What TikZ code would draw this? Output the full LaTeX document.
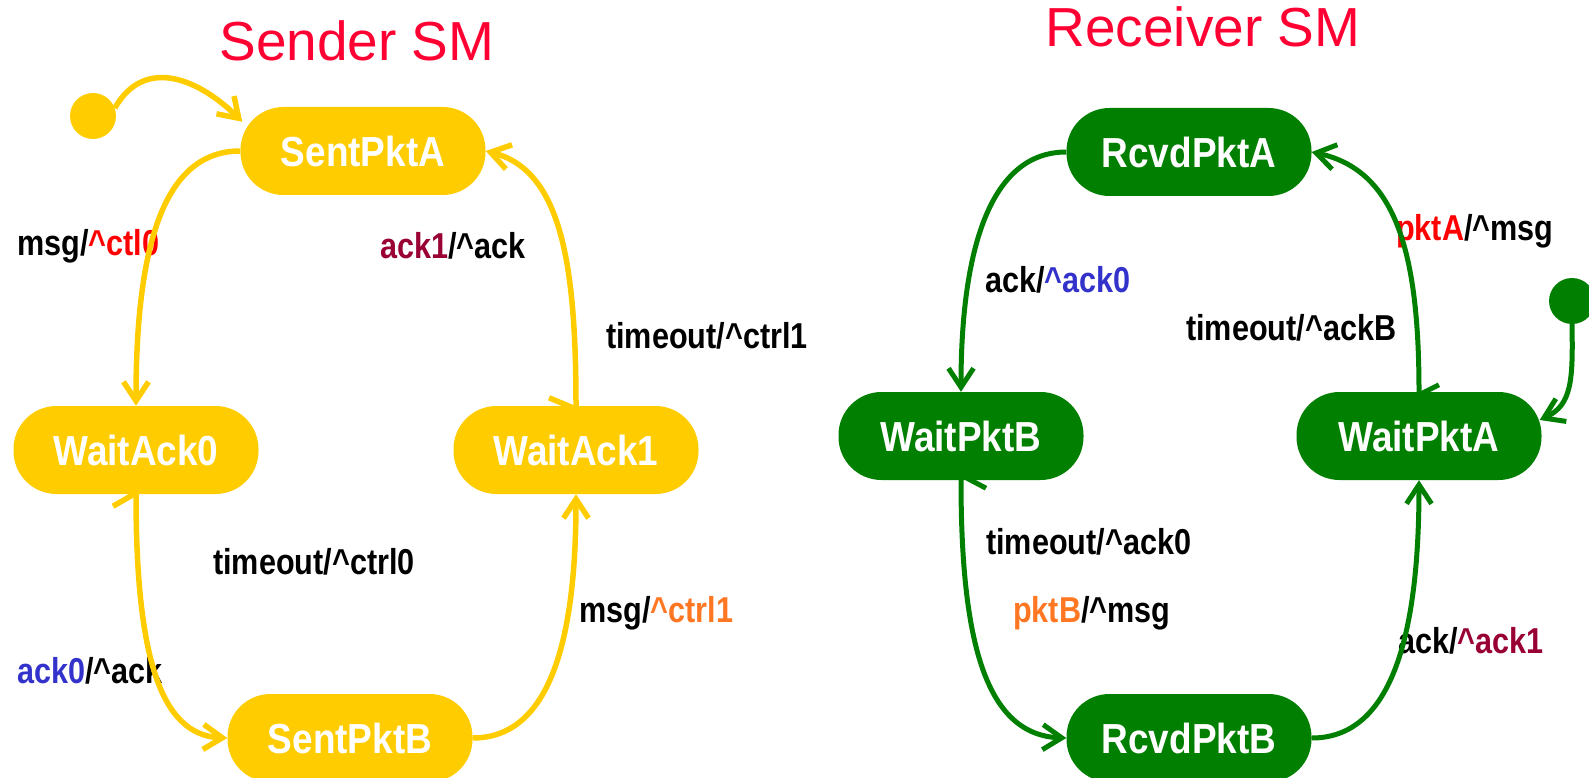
\documentclass[tikz,border=0pt]{standalone}
\usepackage{fontspec}
\setmainfont{Liberation Sans}
\usetikzlibrary{arrows.meta,calc}
\definecolor{sy}{HTML}{FFCC00}
\definecolor{rg}{HTML}{007F00}
\definecolor{titlered}{HTML}{FF0033}
\definecolor{lred}{HTML}{FF0000}
\definecolor{lblue}{HTML}{3333CC}
\definecolor{lwine}{HTML}{990033}
\definecolor{lorange}{HTML}{FF7722}
% horizontally condensed text
\newcommand\narrowtext[2]{\scalebox{#1}[1]{#2}}
\newcommand\up{\textasciicircum}
\begin{document}
\begin{tikzpicture}[x=1pt,y=-1pt,
  statebox/.style={fill=#1, text=white, rounded corners=43pt,
    minimum width=245pt, minimum height=88pt, inner sep=0pt,
    font=\fontsize{42}{46}\selectfont\bfseries},
  initdot/.style={circle, fill=#1, minimum size=46pt, inner sep=0pt},
  lbl/.style={anchor=west, inner sep=0pt, font=\fontsize{36}{40}\selectfont\bfseries},
  ttl/.style={text=titlered, inner sep=0pt, font=\fontsize{55}{60}\selectfont},
  trans/.style={draw=#1, line width=5.5pt, -{Straight Barb[length=19pt,width=25pt]}},
  barb/.style={draw=#1, line width=5.5pt},
  gw/.style={line width=5pt},
]
\useasboundingbox (0,0) rectangle (1589,778);
\clip (0,0) rectangle (1589,778);

% titles
\node[ttl] (t1) at (357,41) {Sender SM};
\node[ttl] (t2) at (1203,27) {Receiver SM};

% sender states
\node[initdot=sy] (init1) at (93,116) {};
\node[statebox=sy] (spa) at (363,151) {\narrowtext{0.88}{SentPktA}};
\node[statebox=sy] (wa0) at (136,450) {\narrowtext{0.88}{WaitAck0}};
\node[statebox=sy] (wa1) at (576,450) {\narrowtext{0.88}{WaitAck1}};
\node[statebox=sy] (spb) at (350,738) {\narrowtext{0.88}{SentPktB}};

% receiver states
\node[initdot=rg] (init2) at (1572,301) {};
\node[statebox=rg] (rpa) at (1189,152) {\narrowtext{0.88}{RcvdPktA}};
\node[statebox=rg] (wpb) at (961,436) {\narrowtext{0.88}{WaitPktB}};
\node[statebox=rg] (wpa) at (1419,436) {\narrowtext{0.88}{WaitPktA}};
\node[statebox=rg] (rpb) at (1189,738) {\narrowtext{0.88}{RcvdPktB}};

% sender labels
\node[lbl] (ls1) at (17,246) {\narrowtext{0.85}{msg/\textcolor{lred}{\up ctl0}}};
\node[lbl] (ls2) at (380,246) {\narrowtext{0.85}{\textcolor{lwine}{ack1}/\up ack}};
\node[lbl] (ls3) at (606,336) {\narrowtext{0.85}{timeout/\up ctrl1}};
\node[lbl] (ls4) at (213,562) {\narrowtext{0.85}{timeout/\up ctrl0}};
\node[lbl] (ls5) at (579,613) {\narrowtext{0.85}{msg/\textcolor{lorange}{\up ctrl1}}};
\node[lbl] (ls6) at (17,671) {\narrowtext{0.85}{\textcolor{lblue}{ack0}/\up ack}};

% receiver labels
\node[lbl] (lr1) at (985,280) {\narrowtext{0.85}{ack/\textcolor{lblue}{\up ack0}}};
\node[lbl] (lr2) at (1396,231) {\narrowtext{0.85}{\textcolor{lred}{pktA}/\up msg}};
\node[lbl] (lr3) at (1186,328) {\narrowtext{0.85}{timeout/\up ackB}};
\node[lbl] (lr4) at (986,542) {\narrowtext{0.85}{timeout/\up ack0}};
\node[lbl] (lr5) at (1013,613) {\narrowtext{0.85}{\textcolor{lorange}{pktB}/\up msg}};
\node[lbl] (lr6) at (1398,641) {\narrowtext{0.85}{ack/\textcolor{lwine}{\up ack1}}};

% sender transitions
\draw[trans=sy] (init1.20) .. controls (145,55) and (200,80) .. ($(spa.north west)+(2,15)$);
\draw[trans=sy] (spa.west) .. controls (170,151) and (136,230) .. (wa0.north);
\draw[trans=sy] (wa1.north) .. controls (576,260) and (560,170) .. (spa.east);
\draw[trans=sy] (wa0.south) .. controls (136,655) and (160,735) .. (spb.west);
\draw[trans=sy] (spb.east) .. controls (550,738) and (576,640) .. (wa1.south);
\draw[barb=sy] ($(wa0.south)+(-23,12)$) -- ($(wa0.south)+(-2,0)$);
\draw[barb=sy] ($(wa1.north)+(-27,-8)$) -- ($(wa1.north)+(-3,2)$);

% receiver transitions
\draw[trans=rg,gw] (rpa.west) .. controls (990,152) and (961,250) .. (wpb.north);
\draw[trans=rg,gw] (wpa.north) .. controls (1419,250) and (1395,170) .. (rpa.east);
\draw[trans=rg,gw] (init2.south) .. controls (1573,380) and (1572,405) .. ($(wpa.east)+(-2,-16)$);
\draw[trans=rg,gw] (wpb.south) .. controls (961,640) and (985,735) .. (rpb.west);
\draw[trans=rg,gw] (rpb.east) .. controls (1390,738) and (1419,640) .. (wpa.south);
\draw[barb=rg,gw] ($(wpb.south)+(25,8)$) -- ($(wpb.south)+(6,-2)$);
\draw[barb=rg,gw] ($(wpa.north)+(20,-7)$) -- ($(wpa.north)+(0,3)$);
\end{tikzpicture}
\end{document}
